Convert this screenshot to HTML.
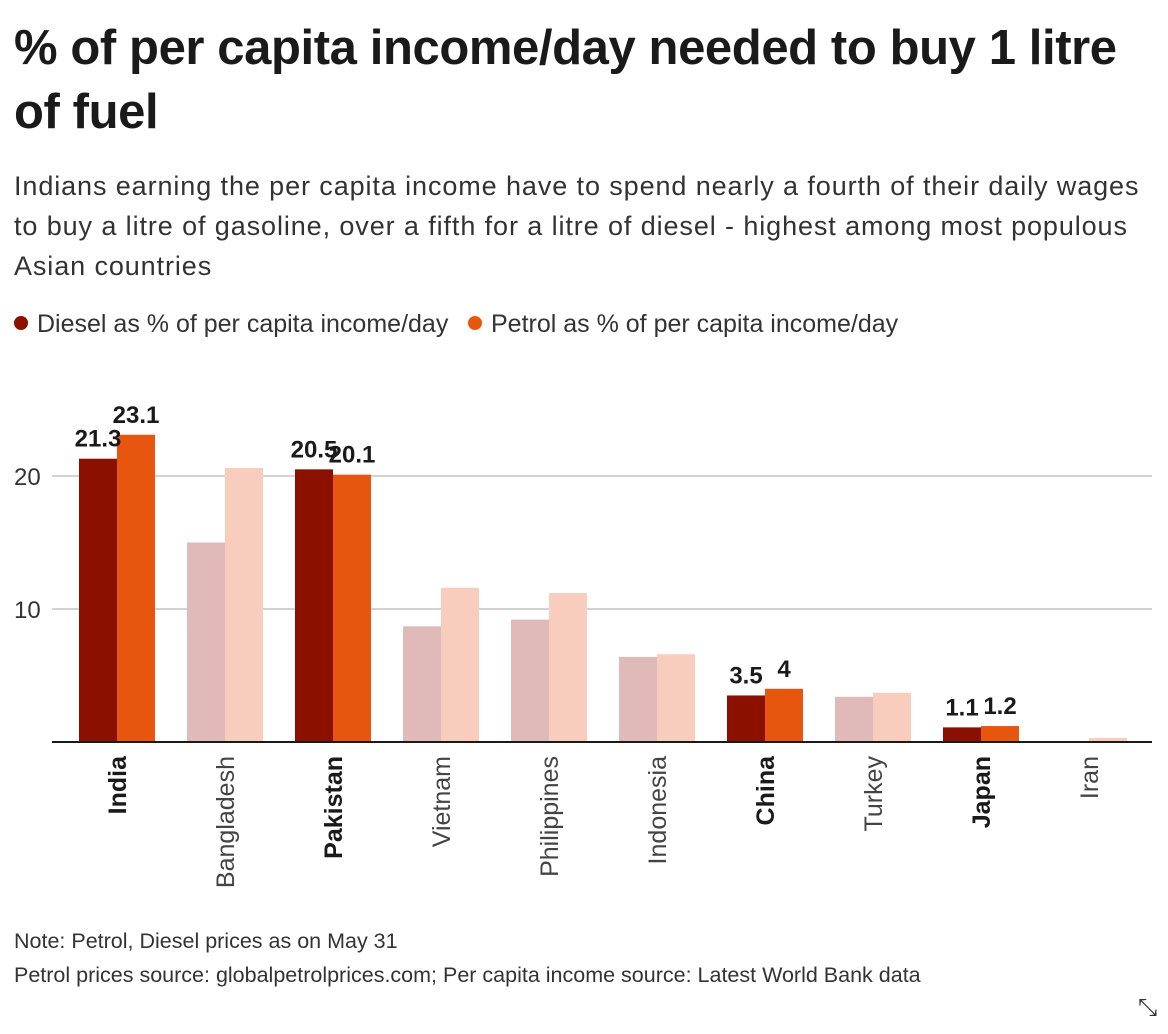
<!DOCTYPE html>
<html><head><meta charset="utf-8">
<style>
body{margin:0;background:#fff;font-family:"Liberation Sans",sans-serif;color:#1a1a1a;}
#wrap{position:relative;width:1168px;height:1034px;overflow:hidden;}
h1{position:absolute;left:14px;top:16px;margin:0;font-size:49px;line-height:64px;font-weight:bold;width:1150px;letter-spacing:-0.4px;white-space:nowrap;}
.sub{position:absolute;left:14px;top:166px;font-size:27px;line-height:40px;color:#333;width:1160px;white-space:nowrap;letter-spacing:0.9px;}
.leg{position:absolute;top:310px;font-size:25px;color:#333;white-space:nowrap;}
.dot{display:inline-block;width:14px;height:14px;border-radius:7px;margin-right:9px;vertical-align:2px;}
.note{position:absolute;left:14px;font-size:21.5px;color:#333;white-space:nowrap;}
</style></head><body>
<div id="wrap">
<h1>% of per capita income/day needed to buy 1 litre<br>of fuel</h1>
<div class="sub">Indians earning the per capita income have to spend nearly a fourth of their daily wages<br>to buy a litre of gasoline, over a fifth for a litre of diesel - highest among most populous<br>Asian countries</div>
<div class="leg" style="left:14px"><span class="dot" style="background:#8b1000"></span>Diesel as % of per capita income/day</div>
<div class="leg" style="left:468px"><span class="dot" style="background:#e8550f"></span>Petrol as % of per capita income/day</div>
<svg id="chart" width="1168" height="1034" style="position:absolute;left:0;top:0"></svg>
<div class="note" style="top:929px">Note: Petrol, Diesel prices as on May 31</div>
<div class="note" style="top:963px">Petrol prices source: globalpetrolprices.com; Per capita income source: Latest World Bank data</div>
<div style="position:absolute;left:1138px;top:994px;font-size:24px;color:#333">⤡</div>
</div>
<script>
const categories=["India","Bangladesh","Pakistan","Vietnam","Philippines","Indonesia","China","Turkey","Japan","Iran"];
const diesel=[21.3,15.0,20.5,8.7,9.2,6.4,3.5,3.4,1.1,0];
const petrol=[23.1,20.6,20.1,11.6,11.2,6.6,4.0,3.7,1.2,0.3];
const highlighted=[true,false,true,false,false,false,true,false,true,false];
const dieselLabels=["21.3","","20.5","","","","3.5","","1.1",""];
const petrolLabels=["23.1","","20.1","","","","4","","1.2",""];
const yTicks=[10,20];
const svg=document.getElementById('chart');
const NS="http://www.w3.org/2000/svg";
const y0=742,pxPerUnit=13.3,left=52,right=1152,bandStart=63,band=108,bw=38;
const y=v=>y0-v*pxPerUnit;
const xc=i=>bandStart+band*i+band/2;
function mk(t,a){const e=document.createElementNS(NS,t);for(const k in a)e.setAttribute(k,a[k]);svg.appendChild(e);return e;}
yTicks.forEach(t=>{
 const l=mk('line',{x1:left,x2:right,y1:y(t),y2:y(t),stroke:'#c4c4c4','stroke-width':1.5});
 
 
 const tx=mk('text',{x:14,y:y(t)+9,'font-size':24,fill:'#333','font-family':'Liberation Sans'});
 tx.textContent=t;
 
 
});
categories.forEach((c,i)=>{
 const cx=xc(i),h=highlighted[i];
 const r1=mk('rect',{x:cx-bw,y:y(diesel[i]),width:bw,height:diesel[i]*pxPerUnit,fill:h?'#8b1000':'#e0bab8'});
 
 
 const r2=mk('rect',{x:cx,y:y(petrol[i]),width:bw,height:petrol[i]*pxPerUnit,fill:h?'#e8550f':'#f9cdbd'});
 
 
 if(dieselLabels[i]){const t=mk('text',{x:cx-bw/2,y:y(diesel[i])-12,'text-anchor':'middle','font-size':24,'font-weight':'bold',fill:'#1a1a1a'});t.textContent=dieselLabels[i];
  
  }
 if(petrolLabels[i]){const t=mk('text',{x:cx+bw/2,y:y(petrol[i])-12,'text-anchor':'middle','font-size':24,'font-weight':'bold',fill:'#1a1a1a'});t.textContent=petrolLabels[i];
  
  }
 const lb=mk('text',{x:0,y:0,'text-anchor':'end','font-size':25,'font-weight':h?'bold':'normal',fill:h?'#1a1a1a':'#444',transform:`translate(${cx+9},${y0+14}) rotate(-90)`});
 lb.textContent=c;
 
 
});
const ax=mk('line',{x1:left,x2:right,y1:y0,y2:y0,stroke:'#1a1a1a','stroke-width':2});


</script>
</body></html>
